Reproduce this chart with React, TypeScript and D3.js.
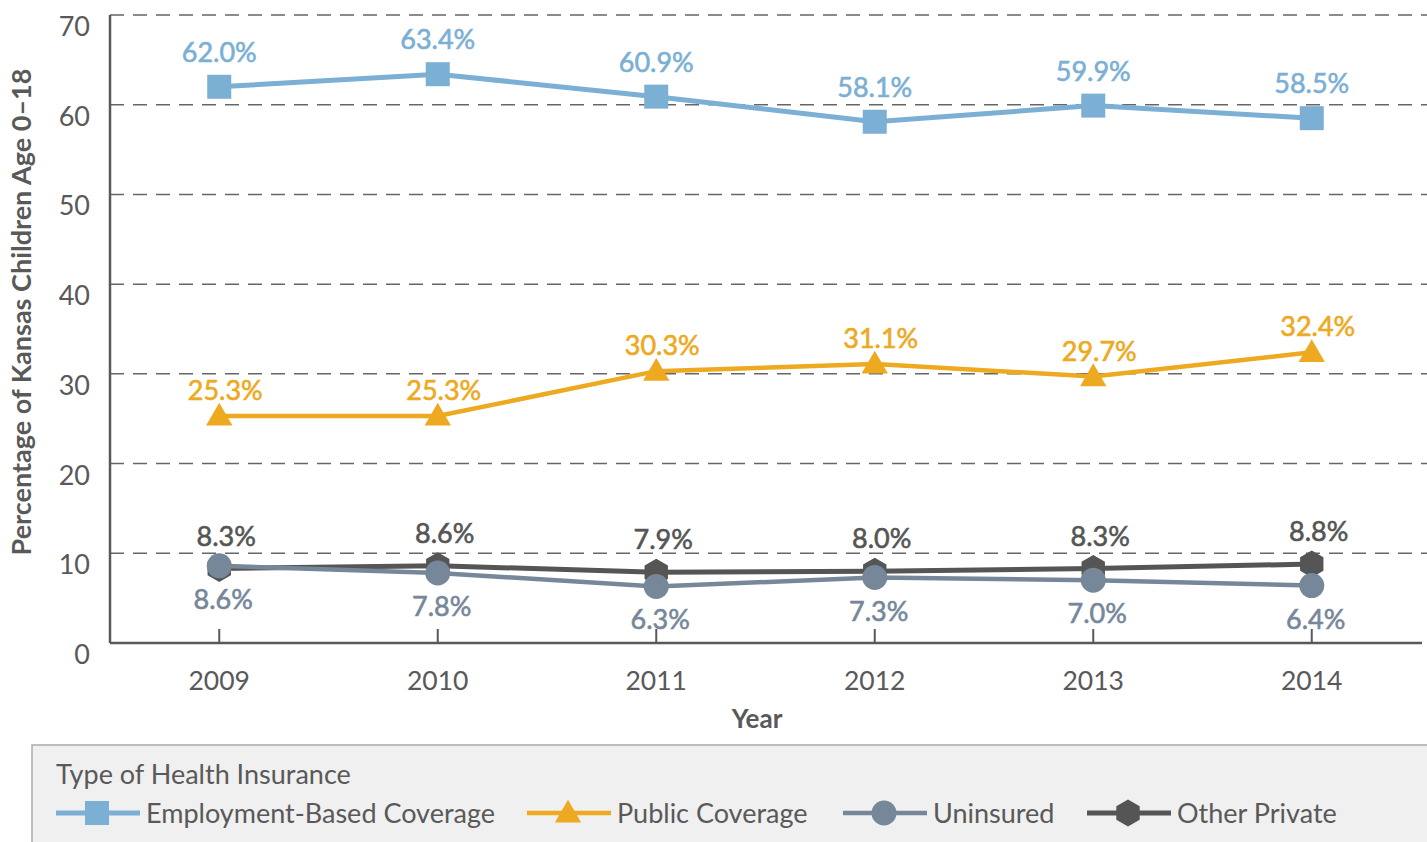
import React from "react";
import * as d3 from "d3";

const years = ["2009", "2010", "2011", "2012", "2013", "2014"];
const employment = [62.0, 63.4, 60.9, 58.1, 59.9, 58.5];
const publicCov = [25.3, 25.3, 30.3, 31.1, 29.7, 32.4];
const uninsured = [8.6, 7.8, 6.3, 7.3, 7.0, 6.4];
const otherPrivate = [8.3, 8.6, 7.9, 8.0, 8.3, 8.8];
const yTicks = [0, 10, 20, 30, 40, 50, 60, 70];
const seriesNames = ["Employment-Based Coverage", "Public Coverage", "Uninsured", "Other Private"];

const W = 1427;
const H = 842;
const FONT = "Lato, 'Open Sans', sans-serif";
const TXT = "#595959";

type Marker = "square" | "triangle" | "circle" | "hexagon";

function MarkerShape({ m, cx, cy, color }: { m: Marker; cx: number; cy: number; color: string }) {
  if (m === "square") {
    const s = 24;
    return <rect x={cx - s / 2} y={cy - s / 2} width={s} height={s} fill={color} />;
  }
  if (m === "circle") {
    return <circle cx={cx} cy={cy} r={12.5} fill={color} />;
  }
  if (m === "triangle") {
    const p = d3.symbol(d3.symbolTriangle, 300)()!;
    return <path d={p} transform={`translate(${cx},${cy + 2})`} fill={color} />;
  }
  const r = 13.5;
  const pts = d3.range(6).map((i) => {
    const a = (Math.PI / 3) * i - Math.PI / 2;
    return [cx + r * Math.cos(a), cy + r * Math.sin(a)];
  });
  return <polygon points={pts.map((p) => p.join(",")).join(" ")} fill={color} />;
}

export default function App() {
  const left = 110;
  const right = 1421;
  const top = 15;
  const bottom = 643;

  const x = d3.scalePoint<string>().domain(years).range([left, right]).padding(0.5);
  const y = d3.scaleLinear().domain([0, 70]).range([bottom, top]);

  const series = [
    { name: seriesNames[0], values: employment, color: "#7BAFD4", marker: "square" as Marker, width: 5, labelDy: -25, labelDx: 0 },
    { name: seriesNames[1], values: publicCov, color: "#EDA920", marker: "triangle" as Marker, width: 4.5, labelDy: -16, labelDx: 6 },
    { name: seriesNames[2], values: uninsured, color: "#76879A", marker: "circle" as Marker, width: 4.5, labelDy: 43, labelDx: 4 },
    { name: seriesNames[3], values: otherPrivate, color: "#555555", marker: "hexagon" as Marker, width: 5, labelDy: -23, labelDx: 7 },
  ];
  const drawOrder = [0, 1, 3, 2];

  const line = d3
    .line<number>()
    .x((_, i) => x(years[i])!)
    .y((d) => y(d));

  const legendItems = [
    { idx: 0, x0: 56 },
    { idx: 1, x0: 527 },
    { idx: 2, x0: 843 },
    { idx: 3, x0: 1087 },
  ];

  return (
    <svg width={W} height={H} style={{ position: "absolute", left: 0, top: 0, fontFamily: FONT }}>
      <rect x={0} y={0} width={W} height={H} fill="#fff" />
      {yTicks.filter((t) => t > 0).map((t) => (
        <line key={t} x1={left} x2={W} y1={y(t)} y2={y(t)} stroke="#666" strokeWidth={1.5} strokeDasharray="14,9" />
      ))}
      {yTicks.map((t) => (
        <text key={t} x={90} y={y(t) + 21} textAnchor="end" fontSize={27} fill={TXT}>
          {t}
        </text>
      ))}
      <line x1={left} x2={left} y1={top} y2={bottom} stroke="#595959" strokeWidth={2.5} />
      <line x1={left} x2={W - 5} y1={bottom} y2={bottom} stroke="#595959" strokeWidth={2.5} />
      {years.map((yr) => (
        <g key={yr}>
          <line x1={x(yr)} x2={x(yr)} y1={bottom} y2={bottom - 14} stroke="#595959" strokeWidth={2} />
          <text x={x(yr)} y={690} textAnchor="middle" fontSize={26.5} fill={TXT}>
            {yr}
          </text>
        </g>
      ))}
      <text x={757} y={728} textAnchor="middle" fontSize={26} fontWeight="bold" fill={TXT}>
        Year
      </text>
      <text
        transform={`translate(31,312) rotate(-90)`}
        textAnchor="middle"
        fontSize={27}
        fontWeight="bold"
        fill={TXT}
      >
        Percentage of Kansas Children Age 0–18
      </text>

      {drawOrder.map((si) => {
        const s = series[si];
        return (
          <g key={s.name}>
            <path d={line(s.values)!} fill="none" stroke={s.color} strokeWidth={s.width} />
            {s.values.map((v, i) => (
              <MarkerShape key={i} m={s.marker} cx={x(years[i])!} cy={y(v)} color={s.color} />
            ))}
          </g>
        );
      })}
      {series.map((s) =>
        s.values.map((v, i) => (
          <text
            key={s.name + i}
            x={x(years[i])! + s.labelDx}
            y={y(v) + s.labelDy}
            textAnchor="middle"
            fontSize={27}
            fill={s.color}
            stroke={s.color}
            strokeWidth={0.6}
          >
            {v.toFixed(1)}%
          </text>
        ))
      )}

      <rect x={32} y={745} width={W - 31} height={H - 744} fill="#F0F0F0" stroke="#AAAAAA" strokeWidth={1.5} />
      <text x={56} y={784} fontSize={27} fill={TXT}>
        Type of Health Insurance
      </text>
      {legendItems.map(({ idx, x0 }) => {
        const s = series[idx];
        return (
          <g key={s.name}>
            <line x1={x0} x2={x0 + 84} y1={813} y2={813} stroke={s.color} strokeWidth={s.width} />
            <MarkerShape m={s.marker} cx={x0 + 41} cy={813} color={s.color} />
            <text x={x0 + 90} y={823} fontSize={27} fill={TXT}>
              {s.name}
            </text>
          </g>
        );
      })}
    </svg>
  );
}
